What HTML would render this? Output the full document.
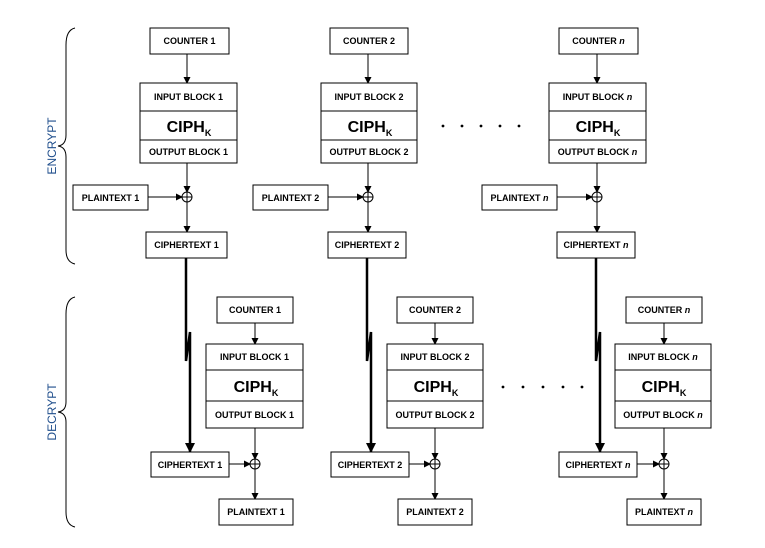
<!DOCTYPE html>
<html><head><meta charset="utf-8"><style>
html,body{margin:0;padding:0;background:#fff;}
svg{display:block;}
text{font-family:"Liberation Sans",Arial,sans-serif;font-weight:bold;font-size:9px;fill:#000;text-anchor:middle;}
.c{font-size:16px;font-weight:bold;}
.s{font-size:9px;font-weight:bold;}
.lab{font-weight:normal;font-size:12px;fill:#1f4e8c;}
rect{fill:#fff;stroke:#000;stroke-width:1;}
line,path,polyline{stroke:#000;fill:none;}
.d{fill:#000;stroke:none;}
</style></head><body>
<svg width="765" height="548" viewBox="0 0 765 548" xmlns="http://www.w3.org/2000/svg">
<defs>
<marker id="a" markerWidth="7" markerHeight="7" refX="6" refY="3.5" orient="auto" markerUnits="userSpaceOnUse"><path d="M0,0 L7,3.5 L0,7z" style="fill:#000;stroke:none"/></marker>
<marker id="b" markerWidth="10" markerHeight="10" refX="9" refY="5" orient="auto" markerUnits="userSpaceOnUse"><path d="M0,0 L10,5 L0,10z" style="fill:#000;stroke:none"/></marker>
</defs>

<!-- braces -->
<path d="M75,28 Q66,30 66,45 L66,135 Q66,145 58,146 Q66,147 66,157 L66,250 Q66,262 75,264"/>
<text class="lab" transform="translate(56,146) rotate(-90)">ENCRYPT</text>
<path d="M75,297 Q66,299 66,314 L66,402 Q66,411 58,412 Q66,413 66,422 L66,512 Q66,525 75,527"/>
<text class="lab" transform="translate(56,412) rotate(-90)">DECRYPT</text>

<!-- ENCRYPT col 1 -->
<rect x="150" y="28" width="79" height="26"/><text x="189.5" y="44">COUNTER 1</text>
<line x1="187" y1="54" x2="187" y2="83" marker-end="url(#a)"/>
<rect x="140" y="83" width="97" height="80"/>
<line x1="140" y1="111" x2="237" y2="111"/><line x1="140" y1="140" x2="237" y2="140"/>
<text x="188.5" y="100">INPUT BLOCK 1</text>
<text x="189" y="132" class="c">CIPH<tspan class="s" dy="4">K</tspan></text>
<text x="188.5" y="155">OUTPUT BLOCK 1</text>
<line x1="187" y1="163" x2="187" y2="192" marker-end="url(#a)"/>
<circle cx="187" cy="197" r="5" fill="none" stroke="#000"/><line x1="182" y1="197" x2="192" y2="197"/><line x1="187" y1="192" x2="187" y2="202"/>
<rect x="73" y="185" width="75" height="25"/><text x="110.5" y="201">PLAINTEXT 1</text>
<line x1="148" y1="197" x2="182" y2="197" marker-end="url(#a)"/>
<line x1="187" y1="202" x2="187" y2="232" marker-end="url(#a)"/>
<rect x="146" y="232" width="81" height="26"/><text x="186.5" y="248">CIPHERTEXT 1</text>

<!-- ENCRYPT col 2 -->
<rect x="330" y="28" width="78" height="26"/><text x="369" y="44">COUNTER 2</text>
<line x1="368" y1="54" x2="368" y2="83" marker-end="url(#a)"/>
<rect x="321" y="83" width="96" height="80"/>
<line x1="321" y1="111" x2="417" y2="111"/><line x1="321" y1="140" x2="417" y2="140"/>
<text x="369" y="100">INPUT BLOCK 2</text>
<text x="370" y="132" class="c">CIPH<tspan class="s" dy="4">K</tspan></text>
<text x="369" y="155">OUTPUT BLOCK 2</text>
<line x1="368" y1="163" x2="368" y2="192" marker-end="url(#a)"/>
<circle cx="368" cy="197" r="5" fill="none" stroke="#000"/><line x1="363" y1="197" x2="373" y2="197"/><line x1="368" y1="192" x2="368" y2="202"/>
<rect x="253" y="185" width="75" height="25"/><text x="290.5" y="201">PLAINTEXT 2</text>
<line x1="328" y1="197" x2="363" y2="197" marker-end="url(#a)"/>
<line x1="368" y1="202" x2="368" y2="232" marker-end="url(#a)"/>
<rect x="328" y="232" width="78" height="26"/><text x="367" y="248">CIPHERTEXT 2</text>

<circle class="d" cx="443" cy="126" r="1.4"/><circle class="d" cx="462" cy="126" r="1.4"/><circle class="d" cx="481" cy="126" r="1.4"/><circle class="d" cx="500" cy="126" r="1.4"/><circle class="d" cx="519" cy="126" r="1.4"/>

<!-- ENCRYPT col n -->
<rect x="559" y="28" width="79" height="26"/><text x="598.5" y="44">COUNTER <tspan font-style="italic">n</tspan></text>
<line x1="597" y1="54" x2="597" y2="83" marker-end="url(#a)"/>
<rect x="549" y="83" width="97" height="80"/>
<line x1="549" y1="111" x2="646" y2="111"/><line x1="549" y1="140" x2="646" y2="140"/>
<text x="597.5" y="100">INPUT BLOCK <tspan font-style="italic">n</tspan></text>
<text x="598" y="132" class="c">CIPH<tspan class="s" dy="4">K</tspan></text>
<text x="597.5" y="155">OUTPUT BLOCK <tspan font-style="italic">n</tspan></text>
<line x1="597" y1="163" x2="597" y2="192" marker-end="url(#a)"/>
<circle cx="597" cy="197" r="5" fill="none" stroke="#000"/><line x1="592" y1="197" x2="602" y2="197"/><line x1="597" y1="192" x2="597" y2="202"/>
<rect x="482" y="185" width="75" height="25"/><text x="519.5" y="201">PLAINTEXT <tspan font-style="italic">n</tspan></text>
<line x1="557" y1="197" x2="592" y2="197" marker-end="url(#a)"/>
<line x1="597" y1="202" x2="597" y2="232" marker-end="url(#a)"/>
<rect x="557" y="232" width="78" height="26"/><text x="596" y="248">CIPHERTEXT <tspan font-style="italic">n</tspan></text>

<!-- thick connectors -->
<polyline points="186,258 186,361 190,332 190,452" style="stroke-width:2.5" marker-end="url(#b)"/>
<polyline points="367,258 367,361 371,332 371,452" style="stroke-width:2.5" marker-end="url(#b)"/>
<polyline points="596,258 596,361 600,332 600,452" style="stroke-width:2.5" marker-end="url(#b)"/>

<!-- DECRYPT col 1 -->
<rect x="217" y="297" width="76" height="26"/><text x="255" y="313">COUNTER 1</text>
<line x1="255" y1="323" x2="255" y2="344" marker-end="url(#a)"/>
<rect x="206" y="344" width="97" height="84"/>
<line x1="206" y1="370" x2="303" y2="370"/><line x1="206" y1="401" x2="303" y2="401"/>
<text x="254.5" y="360">INPUT BLOCK 1</text>
<text x="256" y="392" class="c">CIPH<tspan class="s" dy="4">K</tspan></text>
<text x="254.5" y="418">OUTPUT BLOCK 1</text>
<line x1="255" y1="428" x2="255" y2="459" marker-end="url(#a)"/>
<circle cx="255" cy="464" r="5" fill="none" stroke="#000"/><line x1="250" y1="464" x2="260" y2="464"/><line x1="255" y1="459" x2="255" y2="469"/>
<rect x="151" y="452" width="78" height="25"/><text x="190" y="468">CIPHERTEXT 1</text>
<line x1="229" y1="464" x2="250" y2="464" marker-end="url(#a)"/>
<line x1="255" y1="469" x2="255" y2="499" marker-end="url(#a)"/>
<rect x="219" y="499" width="74" height="26"/><text x="256" y="515">PLAINTEXT 1</text>

<!-- DECRYPT col 2 -->
<rect x="397" y="297" width="76" height="26"/><text x="435" y="313">COUNTER 2</text>
<line x1="435" y1="323" x2="435" y2="344" marker-end="url(#a)"/>
<rect x="387" y="344" width="96" height="84"/>
<line x1="387" y1="370" x2="483" y2="370"/><line x1="387" y1="401" x2="483" y2="401"/>
<text x="435" y="360">INPUT BLOCK 2</text>
<text x="436" y="392" class="c">CIPH<tspan class="s" dy="4">K</tspan></text>
<text x="435" y="418">OUTPUT BLOCK 2</text>
<line x1="435" y1="428" x2="435" y2="459" marker-end="url(#a)"/>
<circle cx="435" cy="464" r="5" fill="none" stroke="#000"/><line x1="430" y1="464" x2="440" y2="464"/><line x1="435" y1="459" x2="435" y2="469"/>
<rect x="331" y="452" width="78" height="25"/><text x="370" y="468">CIPHERTEXT 2</text>
<line x1="409" y1="464" x2="430" y2="464" marker-end="url(#a)"/>
<line x1="435" y1="469" x2="435" y2="499" marker-end="url(#a)"/>
<rect x="398" y="499" width="74" height="26"/><text x="435" y="515">PLAINTEXT 2</text>

<circle class="d" cx="503" cy="387" r="1.4"/><circle class="d" cx="523" cy="387" r="1.4"/><circle class="d" cx="543" cy="387" r="1.4"/><circle class="d" cx="563" cy="387" r="1.4"/><circle class="d" cx="582" cy="387" r="1.4"/>

<!-- DECRYPT col n -->
<rect x="626" y="297" width="76" height="26"/><text x="664" y="313">COUNTER <tspan font-style="italic">n</tspan></text>
<line x1="664" y1="323" x2="664" y2="344" marker-end="url(#a)"/>
<rect x="615" y="344" width="96" height="84"/>
<line x1="615" y1="370" x2="711" y2="370"/><line x1="615" y1="401" x2="711" y2="401"/>
<text x="663" y="360">INPUT BLOCK <tspan font-style="italic">n</tspan></text>
<text x="664" y="392" class="c">CIPH<tspan class="s" dy="4">K</tspan></text>
<text x="663" y="418">OUTPUT BLOCK <tspan font-style="italic">n</tspan></text>
<line x1="664" y1="428" x2="664" y2="459" marker-end="url(#a)"/>
<circle cx="664" cy="464" r="5" fill="none" stroke="#000"/><line x1="659" y1="464" x2="669" y2="464"/><line x1="664" y1="459" x2="664" y2="469"/>
<rect x="559" y="452" width="78" height="25"/><text x="598" y="468">CIPHERTEXT <tspan font-style="italic">n</tspan></text>
<line x1="637" y1="464" x2="659" y2="464" marker-end="url(#a)"/>
<line x1="664" y1="469" x2="664" y2="499" marker-end="url(#a)"/>
<rect x="627" y="499" width="74" height="26"/><text x="664" y="515">PLAINTEXT <tspan font-style="italic">n</tspan></text>
</svg>
</body></html>
